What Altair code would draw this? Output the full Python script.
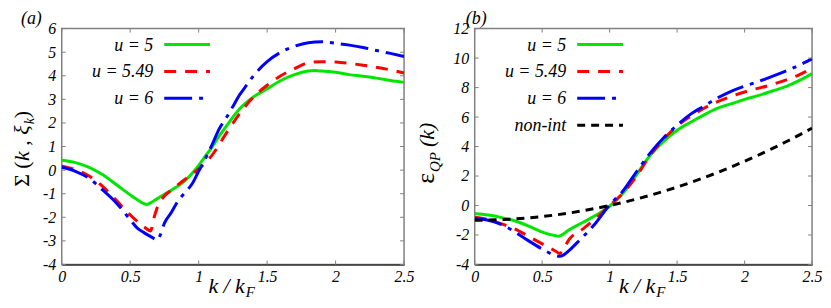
import altair as alt
import pandas as pd

# ---------------- data ----------------
# Panel (a): Sigma(k, xi_k)
a_green_k = [0, 0.1, 0.2, 0.3, 0.4, 0.5, 0.55, 0.6, 0.62, 0.66, 0.7, 0.8, 0.9, 1.0, 1.05, 1.1, 1.15, 1.2,
             1.3, 1.4, 1.5, 1.6, 1.7, 1.8, 1.85, 1.9, 2.0, 2.1, 2.2, 2.3, 2.4, 2.5]
a_green_v = [0.42, 0.32, 0.12, -0.2, -0.62, -1.05, -1.25, -1.42, -1.46, -1.35, -1.2, -0.85, -0.45, 0.2, 0.6,
             1.0, 1.45, 1.85, 2.6, 3.1, 3.45, 3.8, 4.05, 4.2, 4.22, 4.2, 4.15, 4.05, 3.98, 3.9, 3.8, 3.72]

a_red_k = [0, 0.1, 0.2, 0.3, 0.4, 0.5, 0.6, 0.65, 0.67, 0.7, 0.75, 0.8, 0.9, 1.0, 1.1, 1.2, 1.3, 1.4,
           1.5, 1.6, 1.7, 1.8, 1.9, 2.0, 2.2, 2.4, 2.5]
a_red_v = [0.17, 0.02, -0.25, -0.7, -1.29, -1.9, -2.4, -2.58, -2.1, -1.55, -1.1, -0.85, -0.39, 0.05, 0.65,
           1.55, 2.4, 3.1, 3.6, 4.0, 4.3, 4.55, 4.6, 4.58, 4.45, 4.25, 4.12]

a_blue_k = [0, 0.1, 0.2, 0.3, 0.4, 0.5, 0.55, 0.6, 0.65, 0.7, 0.72, 0.75, 0.8, 0.85, 0.9, 0.95, 1.0, 1.05,
            1.1, 1.15, 1.2, 1.25, 1.3, 1.35, 1.4, 1.5, 1.6, 1.7, 1.8, 1.9, 2.0, 2.1, 2.2, 2.3, 2.4, 2.5]
a_blue_v = [0.12, -0.05, -0.35, -0.85, -1.4, -2.1, -2.45, -2.65, -2.82, -2.96, -2.75, -2.25, -1.8, -1.3,
            -0.95, -0.6, -0.05, 0.5, 1.1, 1.75, 2.2, 2.7, 3.2, 3.6, 4.0, 4.6, 5.0, 5.25, 5.4, 5.44, 5.38, 5.3,
            5.2, 5.07, 4.95, 4.82]

# Panel (b): eps_QP(k)
b_green_k = [0, 0.1, 0.2, 0.3, 0.4, 0.5, 0.6, 0.62, 0.7, 0.8, 0.9, 1.0, 1.1, 1.2, 1.3, 1.4, 1.5, 1.6, 1.7,
             1.8, 1.9, 2.0, 2.1, 2.2, 2.3, 2.4, 2.5]
b_green_v = [-0.55, -0.65, -0.82, -1.05, -1.4, -1.8, -2.05, -2.08, -1.65, -1.15, -0.65, -0.05, 0.85, 2.1,
             3.4, 4.35, 5.1, 5.65, 6.15, 6.6, 6.9, 7.2, 7.45, 7.75, 8.05, 8.45, 8.95]

b_red_k = [0, 0.1, 0.2, 0.3, 0.4, 0.5, 0.6, 0.63, 0.66, 0.7, 0.8, 0.9, 1.0, 1.1, 1.2, 1.3, 1.4, 1.5, 1.6,
           1.7, 1.8, 1.9, 2.0, 2.2, 2.4, 2.5]
b_red_v = [-0.8, -0.95, -1.25, -1.6, -2.1, -2.6, -3.1, -3.25, -2.9, -2.3, -1.6, -0.85, 0.0, 0.85, 2.0, 3.4,
           4.5, 5.4, 6.05, 6.6, 7.05, 7.4, 7.7, 8.2, 8.85, 9.3]

b_blue_k = [0, 0.1, 0.2, 0.3, 0.4, 0.5, 0.6, 0.63, 0.66, 0.7, 0.75, 0.8, 0.9, 1.0, 1.1, 1.2, 1.3, 1.4, 1.5,
            1.6, 1.7, 1.8, 1.9, 2.0, 2.1, 2.2, 2.3, 2.4, 2.5]
b_blue_v = [-0.9, -1.0, -1.3, -1.8, -2.4, -2.95, -3.4, -3.45, -3.35, -3.05, -2.6, -2.15, -1.15, 0.05, 1.0,
            2.3, 3.55, 4.6, 5.45, 6.2, 6.75, 7.3, 7.75, 8.1, 8.4, 8.75, 9.1, 9.5, 9.95]

b_black_k = [0, 0.1, 0.2, 0.3, 0.4, 0.5, 0.6, 0.7, 0.8, 0.9, 1.0, 1.1, 1.2, 1.3, 1.4, 1.5, 1.6, 1.7, 1.8,
             1.9, 2.0, 2.1, 2.2, 2.3, 2.4, 2.5]
b_black_v = [-1.0, -0.99, -0.96, -0.91, -0.84, -0.75, -0.64, -0.51, -0.36, -0.19, 0.0, 0.21, 0.44, 0.69,
             0.96, 1.25, 1.56, 1.89, 2.24, 2.61, 3.0, 3.41, 3.84, 4.29, 4.76, 5.25]

x_ticks = [0, 0.5, 1, 1.5, 2, 2.5]
a_y_ticks = [-4, -3, -2, -1, 0, 1, 2, 3, 4, 5, 6]
b_y_ticks = [-4, -2, 0, 2, 4, 6, 8, 10, 12]

labels_a = ["u = 5", "u = 5.49", "u = 6"]
labels_b = ["u = 5", "u = 5.49", "u = 6", "non-int"]

# ---------------- style ----------------
FONT = "Liberation Serif"
GREEN, RED, BLUE, BLACK = "#00e600", "#ff0000", "#0000ff", "#000000"
DASH_RED = [12, 9]
DASH_BLUE = [28, 7, 4, 7]
DASH_BLACK = [8, 6]
W1, W2, H = 344, 339, 237
dummy = alt.Data(values=[{"d": 1}])


def txt(s, x, y, size, italic=True, align="left", angle=0, dx=0, dy=0):
    kw = dict(text=s, font=FONT, fontSize=size, align=align, baseline="alphabetic",
              color="black", dx=dx, dy=dy)
    if italic:
        kw["fontStyle"] = "italic"
    if angle:
        kw["angle"] = angle
    return alt.Chart(dummy).mark_text(**kw).encode(x=alt.value(x), y=alt.value(y))


def panel(series, ydom, yticks, W, legend_labels, panel_label, title_layers):
    xs = alt.Scale(domain=[0, 2.5], nice=False, zero=False)
    ys = alt.Scale(domain=ydom, nice=False, zero=False)
    xaxis = alt.Axis(values=x_ticks, title=None, grid=False, ticks=False, domain=True,
                     domainColor="#333333", domainWidth=1.5, format="~g",
                     labelFont=FONT, labelFontStyle="italic", labelFontSize=16, labelColor="black",
                     labelPadding=4, labelOverlap=False, labelFlush=False)
    yaxis = alt.Axis(values=yticks, title=None, grid=False, ticks=False, domain=False, format="~g",
                     labelFont=FONT, labelFontStyle="italic", labelFontSize=16, labelColor="black",
                     labelPadding=6, labelOverlap=False,
                     labelExpr="replace(datum.label, '\u2212', '-')")
    X = alt.X("k:Q", scale=xs, axis=xaxis)
    Y = alt.Y("v:Q", scale=ys, axis=yaxis)

    layers = []
    for k, v, color, dash in series:
        kw = dict(color=color, strokeWidth=3, interpolate="monotone", clip=True)
        if dash:
            kw["strokeDash"] = dash
        layers.append(alt.Chart(pd.DataFrame({"k": k, "v": v})).mark_line(**kw).encode(x=X, y=Y))

    # inward ticks, mirrored on all four sides
    xt = pd.DataFrame({"k": x_ticks})
    yt = pd.DataFrame({"v": yticks})
    tick_style = dict(color="#808080", strokeWidth=1)
    layers.append(alt.Chart(xt).mark_rule(**tick_style).encode(x=X, y=alt.value(H), y2=alt.value(H - 4)))
    layers.append(alt.Chart(xt).mark_rule(**tick_style).encode(x=X, y=alt.value(0), y2=alt.value(4)))
    layers.append(alt.Chart(yt).mark_rule(**tick_style).encode(y=Y, x=alt.value(0), x2=alt.value(4)))
    layers.append(alt.Chart(yt).mark_rule(**tick_style).encode(y=Y, x=alt.value(W), x2=alt.value(W - 4)))

    # legend drawn inside the plot
    rows = [16, 43, 70, 97]
    for i, (lab, (_, _, color, dash)) in enumerate(zip(legend_labels, series)):
        yy = rows[i]
        layers.append(txt(lab, 92, yy + 6, 18, align="right"))
        kw = dict(color=color, strokeWidth=3)
        if dash:
            kw["strokeDash"] = dash
        layers.append(alt.Chart(dummy).mark_rule(**kw).encode(
            x=alt.value(103), x2=alt.value(149), y=alt.value(yy)))

    # panel label
    layers.append(panel_label)
    # x title  k / k_F
    layers.append(txt("k / k", W / 2 + 12, H + 29, 22, align="right"))
    layers.append(txt("F", W / 2 + 13, H + 33, 15, align="left"))
    layers.extend(title_layers)

    return alt.layer(*layers).properties(width=W, height=H)


title_a = [
    txt("\u03a3 (", -33, 118, 22, italic=False, angle=270, dx=-41),
    txt("k , \u03be", -33, 118, 22, angle=270, dx=-15),
    txt("k", -33, 118, 14, angle=270, dx=22, dy=5),
    txt(" )", -33, 118, 22, italic=False, angle=270, dx=28),
]
title_b = [
    txt("\u03b5", -41, 120, 26, italic=False, angle=270, dx=-36),
    txt("QP", -41, 120, 15, angle=270, dx=-24, dy=6),
    txt(" (k)", -41, 120, 22, angle=270, dx=1),
]

left = panel(
    [(a_green_k, a_green_v, GREEN, None), (a_red_k, a_red_v, RED, DASH_RED),
     (a_blue_k, a_blue_v, BLUE, DASH_BLUE)],
    [-4, 6], a_y_ticks, W1, labels_a,
    txt("(a)", -41, -5, 18), title_a)

right = panel(
    [(b_green_k, b_green_v, GREEN, None), (b_red_k, b_red_v, RED, DASH_RED),
     (b_blue_k, b_blue_v, BLUE, DASH_BLUE), (b_black_k, b_black_v, BLACK, DASH_BLACK)],
    [-4, 12], b_y_ticks, W2, labels_b,
    txt("(b)", -9, -5, 18), title_b)

chart = alt.hconcat(left, right, spacing=71, bounds="flush").configure_view(
    stroke="#808080", strokeWidth=1.5
).properties(padding={"left": 2, "top": 0, "right": 0, "bottom": 0})

chart.save("out.html", embed_options={"renderer": "svg", "actions": False})
